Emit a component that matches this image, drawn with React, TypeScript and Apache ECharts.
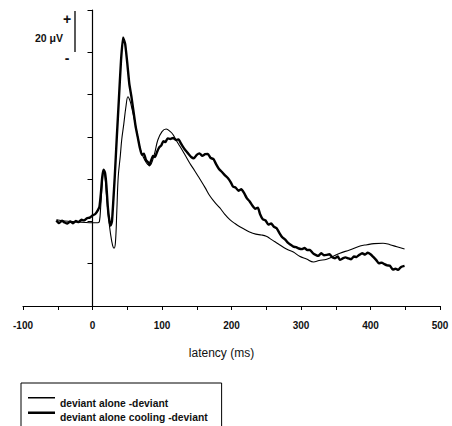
import React, { useEffect, useRef } from "react";
import * as echarts from "echarts";

const thinName = "deviant alone -deviant";
const thickName = "deviant alone cooling -deviant";

const xTickLabels = [-100, 0, 100, 200, 300, 400, 500];

const thinLatency = [
  -52, -40, -25, -10, 0, 8, 10, 12, 14, 16, 18, 20, 23, 26, 29, 31, 33, 35, 37, 40,
  42, 45, 48, 51, 54, 57, 61, 65, 69, 73, 77, 81, 84, 87, 90, 94, 100, 106, 112, 116,
  121, 126, 133, 140, 147, 154, 162, 169, 176, 183, 190, 198, 205, 212, 219, 226, 235, 243, 250, 255,
  262, 269, 279, 289, 298, 308, 318, 326, 337, 346, 356, 370, 385, 395, 405, 418, 428, 438, 449,
];
const thinValues = [
  0.8, 0.2, -0.2, -0.5, -0.6, -0.6, 0, 8, 18, 23.5, 21, 13, 2, -6, -11.5, -12.7, -10, 5, 21, 31,
  38.5, 46, 54, 59, 57, 53, 47, 40, 34, 30.5, 28, 26.7, 27, 29.5, 33, 38.5, 42.5, 43.7, 42.5, 41,
  38, 35.4, 31.5, 27.5, 24, 20.3, 16, 12, 9, 6.5, 3.5, 0.7, -1, -2.5, -3.8, -5, -6, -6.4, -7, -8,
  -9.5, -11, -13, -14.5, -16.5, -17.8, -19.2, -18.5, -17.9, -16.6, -15, -13.5, -11.6, -11, -10.5, -10.3, -11, -12, -13,
];

const thickLatency = [
  -52, -48, -44, -40, -36, -32, -28, -24, -20, -16, -12, -8, -4, 0, 4, 8, 10, 12, 14, 16,
  18, 20, 22, 24, 26, 28, 30, 32, 35, 38, 41, 44, 47, 50, 53, 56, 59, 62, 65, 68,
  71, 74, 77, 80, 82, 84, 87, 90, 93, 96, 99, 102, 105, 108, 112, 116, 120, 124, 127, 130,
  134, 138, 142, 146, 150, 154, 158, 162, 166, 170, 174, 178, 182, 186, 190, 195, 199, 202, 206, 210,
  214, 218, 222, 226, 230, 234, 238, 241, 245, 249, 253, 257, 261, 265, 269, 273, 277, 281, 285, 289,
  293, 297, 301, 305, 309, 313, 317, 321, 325, 329, 333, 337, 341, 345, 349, 353, 356, 360, 364, 368,
  372, 376, 380, 384, 388, 392, 396, 400, 404, 408, 412, 416, 420, 424, 428, 432, 436, 440, 444, 449,
];
const thickValues = [
  0.5, -0.8, 0.3, -0.5, -1.0, 0.0, -0.9, 0.2, -0.3, 0.8, 0.5, 1.5, 1.8, 2.8, 3.5, 5.5, 7, 13, 21, 24.5,
  23, 17, 7, 1, -2, 0, 10, 21, 40, 58, 76, 87, 84, 75, 65, 59, 52, 45, 40, 35,
  31.5, 32, 29, 28, 26.5, 28.5, 31, 30.5, 33, 35, 36, 38, 37.5, 39.3, 39, 39.5, 38.5, 38.8, 37, 35.4,
  33.5, 32, 30.5, 29.9, 31.5, 32.2, 31, 31.8, 31.9, 30, 29.5, 27, 24.8, 23.5, 22, 20.4, 18.5, 16.5, 16, 14.5,
  15.2, 13.5, 11, 9.5, 7.5, 6, 6.5, 3.5, 1.0, 0.5, -1.5, -1.0, -2.5, -3.2, -5.5, -7.5, -8.5, -10, -11, -11.9,
  -12.2, -12.8, -13.1, -12.6, -13.5, -13.5, -15, -15.8, -16.3, -15, -16, -15.8, -15.5, -17, -17.4, -16.6, -18.2, -17.5, -17.0, -17.5,
  -17.9, -16.6, -16.8, -15.8, -15.0, -15.7, -14.8, -15.5, -16.8, -18.2, -19.8, -19.5, -20.2, -20.8, -21, -22.8, -22.4, -22.9, -21.5, -21,
];

const font = '"Liberation Sans", Arial, sans-serif';

export default function App() {
  const ref = useRef<HTMLDivElement>(null);
  useEffect(() => {
    if (!ref.current) return;
    const chart = echarts.init(ref.current, null, { renderer: "svg" });
    const thinData = thinLatency.map((t, i) => [t, thinValues[i]]);
    const thickData = thickLatency.map((t, i) => [t, thickValues[i]]);
    chart.setOption({
      animation: false,
      backgroundColor: "#fff",
      grid: { left: 23, right: 12, top: 10, bottom: 120, containLabel: false },
      xAxis: {
        type: "value",
        min: -100,
        max: 500,
        interval: 50,
        name: "latency (ms)",
        nameLocation: "middle",
        nameGap: 41,
        nameTextStyle: { fontFamily: font, fontSize: 12, color: "#111", padding: [0, 20, 0, 0] },
        axisLine: { onZero: false, lineStyle: { color: "#000", width: 1.2 } },
        axisTick: { length: 4, lineStyle: { color: "#000" } },
        splitLine: { show: false },
        axisLabel: {
          margin: 14,
          fontFamily: font,
          fontSize: 10,
          fontWeight: "bold",
          color: "#111",
          formatter: (v: number) => (xTickLabels.indexOf(v) >= 0 ? String(v) : ""),
        },
      },
      yAxis: {
        type: "value",
        min: -40,
        max: 100,
        interval: 20,
        axisLine: { show: true, onZero: true, lineStyle: { color: "#000", width: 1.2 } },
        axisTick: { show: true, length: 5, lineStyle: { color: "#000" } },
        axisLabel: { show: false },
        splitLine: { show: false },
      },
      legend: {
        show: true,
        orient: "vertical",
        left: 21,
        top: 383,
        height: 80,
        padding: [14, 14, 8, 7],
        itemGap: 2.5,
        itemWidth: 27,
        itemHeight: 12,
        borderColor: "#000",
        borderWidth: 1,
        itemStyle: { borderWidth: 0, color: "#000" },
        textStyle: { fontFamily: font, fontSize: 10.3, fontWeight: "bold", color: "#111" },
        data: [
          { name: thinName, icon: "path://M0,0 L27,0 L27,1.4 L0,1.4 Z M0,11.95 L0.05,11.95 L0.05,12 L0,12 Z" },
          { name: thickName, icon: "path://M0,0 L27,0 L27,2.6 L0,2.6 Z M0,11.95 L0.05,11.95 L0.05,12 L0,12 Z" },
        ],
      },
      graphic: [
        { type: "line", shape: { x1: 75, y1: 11, x2: 75, y2: 52 }, style: { stroke: "#000", lineWidth: 1.3 } },
        { type: "text", x: 67, y: 19, style: { text: "+", font: `bold 14px ${font}`, fill: "#111", textAlign: "center", textVerticalAlign: "middle" } },
        { type: "text", x: 67, y: 58, style: { text: "-", font: `bold 14px ${font}`, fill: "#111", textAlign: "center", textVerticalAlign: "middle" } },
        { type: "text", x: 63, y: 38, style: { text: "20 μV", font: `bold 10.5px ${font}`, fill: "#111", textAlign: "right", textVerticalAlign: "middle" } },
      ],
      series: [
        {
          name: thinName,
          type: "line",
          data: thinData,
          showSymbol: false,
          symbol: "none",
          smooth: 0.4,
          lineStyle: { color: "#000", width: 1.1 },
          itemStyle: { color: "#000" },
        },
        {
          name: thickName,
          type: "line",
          data: thickData,
          showSymbol: false,
          symbol: "none",
          smooth: 0.15,
          lineStyle: { color: "#000", width: 2.4 },
          itemStyle: { color: "#000" },
        },
      ],
    });
    return () => chart.dispose();
  }, []);
  return (
    <div
      ref={ref}
      style={{ position: "fixed", left: 0, top: 0, width: 452, height: 426, background: "#fff" }}
    />
  );
}
